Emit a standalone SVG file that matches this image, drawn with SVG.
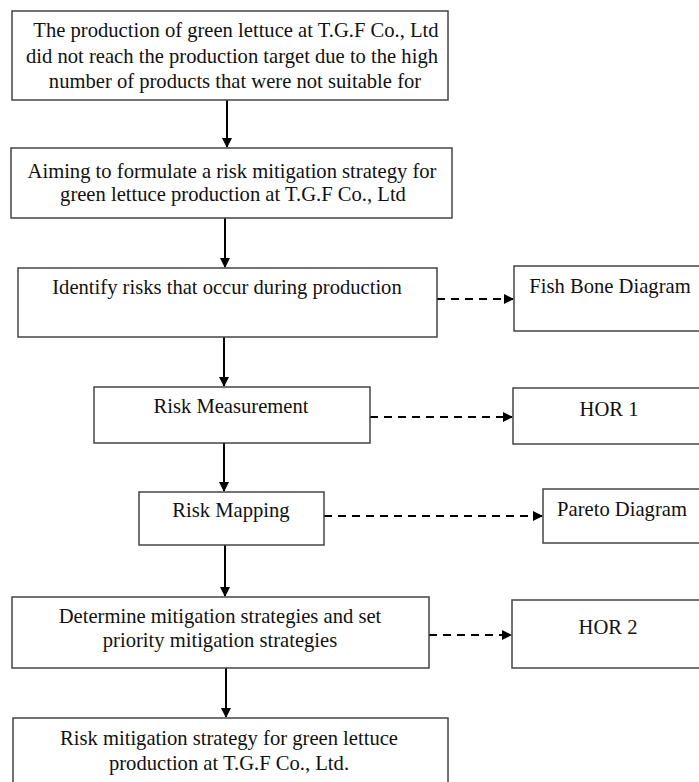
<svg xmlns="http://www.w3.org/2000/svg" width="699" height="782" viewBox="0 0 699 782">
<style>
.box{fill:#fff;stroke:#444;stroke-width:1.5}
.t{font-family:"Liberation Serif","Times New Roman",serif;font-size:20.6px;fill:#111;text-anchor:middle}
.s{stroke:#000;stroke-width:2;fill:none}
.d{stroke:#000;stroke-width:2.2;fill:none;stroke-dasharray:8 6}
</style>
<defs>
<marker id="ah" markerWidth="10" markerHeight="10" refX="9" refY="5" orient="auto" markerUnits="userSpaceOnUse">
<path d="M0,0 L10,5 L0,10 z" fill="#000"/>
</marker>
</defs>
<rect width="699" height="782" fill="#fff"/>
<g id="connectors">
<line class="s" x1="227" y1="100" x2="227" y2="147" marker-end="url(#ah)"/>
<line class="s" x1="225" y1="218" x2="225" y2="267" marker-end="url(#ah)"/>
<line class="s" x1="224" y1="337" x2="224" y2="386" marker-end="url(#ah)"/>
<line class="s" x1="224" y1="443" x2="224" y2="491" marker-end="url(#ah)"/>
<line class="s" x1="225" y1="545" x2="225" y2="596" marker-end="url(#ah)"/>
<line class="s" x1="226" y1="668" x2="226" y2="717" marker-end="url(#ah)"/>
<line class="d" x1="437" y1="299" x2="513" y2="299" marker-end="url(#ah)"/>
<line class="d" x1="370" y1="417" x2="512" y2="417" marker-end="url(#ah)"/>
<line class="d" x1="324" y1="516" x2="542" y2="516" marker-end="url(#ah)"/>
<line class="d" x1="429" y1="635" x2="511" y2="635" marker-end="url(#ah)"/>
</g>
<g id="n1">
<rect class="box" x="12" y="11" width="436" height="89"/>
<text class="t" x="236" y="37">The production of green lettuce at T.G.F Co., Ltd</text>
<text class="t" x="232" y="63">did not reach the production target due to the high</text>
<text class="t" x="235" y="88">number of products that were not suitable for</text>
</g>
<g id="n2">
<rect class="box" x="11" y="148" width="441" height="70"/>
<text class="t" x="232" y="178">Aiming to formulate a risk mitigation strategy for</text>
<text class="t" x="233" y="201">green lettuce production at T.G.F Co., Ltd</text>
</g>
<g id="n3">
<rect class="box" x="18" y="268" width="419" height="69"/>
<text class="t" x="227" y="294">Identify risks that occur during production</text>
</g>
<g id="n4">
<rect class="box" x="514" y="266" width="200" height="65"/>
<text class="t" x="610" y="293">Fish Bone Diagram</text>
</g>
<g id="n5">
<rect class="box" x="94" y="387" width="276" height="56"/>
<text class="t" x="231" y="413">Risk Measurement</text>
</g>
<g id="n6">
<rect class="box" x="513" y="388" width="200" height="56"/>
<text class="t" x="609" y="416">HOR 1</text>
</g>
<g id="n7">
<rect class="box" x="139" y="492" width="185" height="53"/>
<text class="t" x="231" y="517">Risk Mapping</text>
</g>
<g id="n8">
<rect class="box" x="543" y="489" width="170" height="54"/>
<text class="t" x="622" y="516">Pareto Diagram</text>
</g>
<g id="n9">
<rect class="box" x="12" y="597" width="417" height="71"/>
<text class="t" x="220" y="623">Determine mitigation strategies and set</text>
<text class="t" x="220" y="647">priority mitigation strategies</text>
</g>
<g id="n10">
<rect class="box" x="512" y="600" width="200" height="68"/>
<text class="t" x="608" y="634">HOR 2</text>
</g>
<g id="n11">
<rect class="box" x="13" y="718" width="435" height="70"/>
<text class="t" x="229" y="745">Risk mitigation strategy for green lettuce</text>
<text class="t" x="229" y="770">production at T.G.F Co., Ltd.</text>
</g>
</svg>
